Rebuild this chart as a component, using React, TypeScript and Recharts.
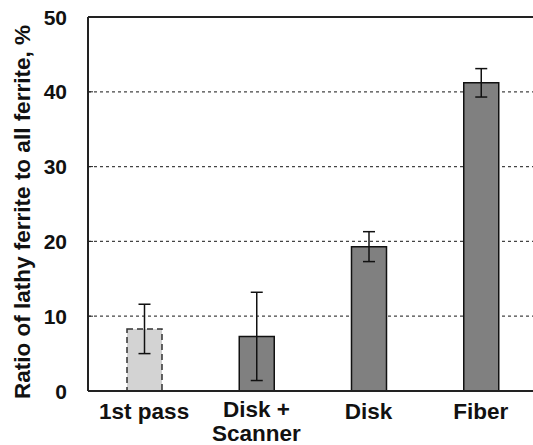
import { BarChart, Bar, XAxis, YAxis, CartesianGrid, ErrorBar, Cell, ReferenceLine } from 'recharts';

const categories = ['1st pass', 'Disk +\nScanner', 'Disk', 'Fiber'];
const ratios = [8.3, 7.3, 19.3, 41.2];
const errors = [3.3, 5.9, 2.0, 1.9];
const yTicks = [0, 10, 20, 30, 40, 50];

const data = categories.map((name, i) => ({ name, ratio: ratios[i], err: errors[i] }));

const FONT = '"Liberation Sans", Arial, sans-serif';

const XTick = (props: any) => {
  const { x, y, payload } = props;
  const lines = String(payload.value).split('\n');
  return (
    <text x={x} y={y + (lines.length > 1 ? 24 : 26)} textAnchor="middle" fontFamily={FONT} fontWeight="bold" fontSize={22.5} fill="#111">
      {lines.map((l: string, i: number) => (
        <tspan key={i} x={x} dy={i === 0 ? 0 : 24}>{l}</tspan>
      ))}
    </text>
  );
};

const YTick = (props: any) => {
  const { x, y, payload } = props;
  const ax = x + 21;
  return (
    <g>
      {payload.value > 0 && payload.value < 50 && (
        <line x1={ax} x2={ax + 5} y1={y} y2={y} stroke="#222" strokeWidth={1} />
      )}
      <text x={x} y={y} dy={7.5} textAnchor="end" fontFamily={FONT} fontWeight="bold" fontSize={21} fill="#111">
        {payload.value}
      </text>
    </g>
  );
};

const YLabel = (props: any) => {
  const { viewBox } = props;
  const cx = viewBox.x + 22.5;
  const cy = viewBox.y + viewBox.height / 2 + 8;
  return (
    <text x={cx} y={cy} transform={`rotate(-90 ${cx} ${cy})`} textAnchor="middle" dominantBaseline="central"
      fontFamily={FONT} fontWeight="bold" fontSize={22.5} fill="#111">
      Ratio of lathy ferrite to all ferrite, %
    </text>
  );
};

export default function App() {
  return (
    <div style={{ position: 'absolute', left: 0, top: 0, width: 533, height: 445, overflow: 'hidden', background: '#fff' }}>
      <BarChart width={570} height={445} data={data} margin={{ top: 17, right: 33, bottom: 0, left: 0 }}>
        <CartesianGrid vertical={false} stroke="#444" strokeDasharray="3 3" strokeWidth={1.2} />
        <XAxis dataKey="name" height={54} interval={0} tick={<XTick />} tickLine={false} tickSize={0}
          axisLine={{ stroke: '#222', strokeWidth: 2 }} />
        <YAxis width={88} domain={[0, 50]} ticks={yTicks} tick={<YTick />} tickLine={false} tickSize={0} tickMargin={21}
          axisLine={{ stroke: '#222', strokeWidth: 2 }} label={<YLabel />} />
        <ReferenceLine y={50} stroke="#222" strokeWidth={2} />
        <Bar dataKey="ratio" barSize={35} isAnimationActive={false}>
          {data.map((d, i) => (
            <Cell key={d.name} fill={i === 0 ? '#d3d3d3' : '#808080'} stroke={i === 0 ? '#333' : '#111'}
              strokeWidth={1.5} strokeDasharray={i === 0 ? '6 4' : undefined} />
          ))}
          <ErrorBar dataKey="err" width={6} stroke="#111" strokeWidth={1.5} />
        </Bar>
      </BarChart>
    </div>
  );
}
